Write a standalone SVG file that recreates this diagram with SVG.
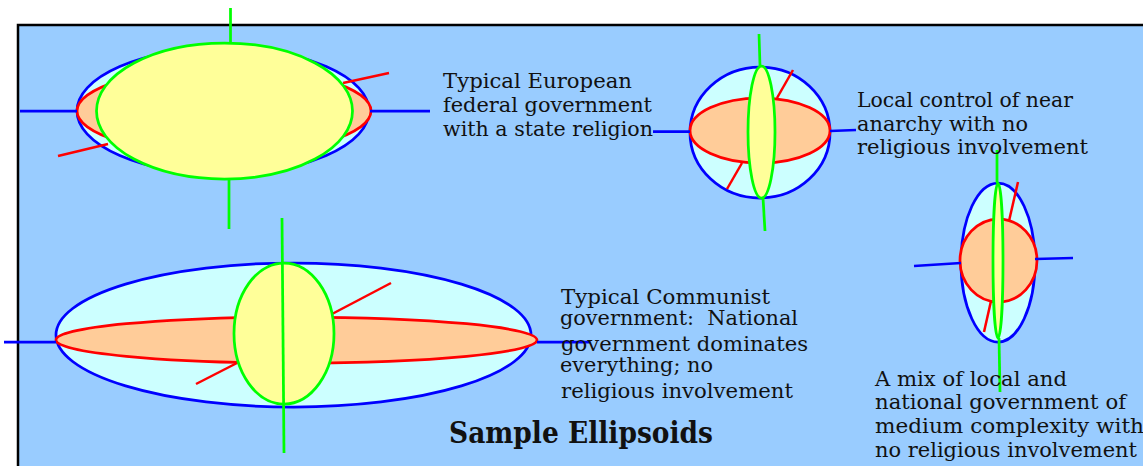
<svg xmlns="http://www.w3.org/2000/svg" width="1143" height="466" viewBox="0 0 1143 466">
<style>
.bg{fill:#99CCFF;stroke:#000;stroke-width:2.5}
.bl{fill:#CCFFFF;stroke:#0000FF;stroke-width:2.75}
.rd{fill:#FFCC99;stroke:#FF0000;stroke-width:2.75}
.gr{fill:#FFFF99;stroke:#00FF00;stroke-width:2.75}
.bx{stroke:#0000FF;stroke-width:2.75;fill:none}
.rx{stroke:#FF0000;stroke-width:2.5;fill:none}
.gx{stroke:#00FF00;stroke-width:2.75;fill:none}
text{font-family:"DejaVu Serif","Liberation Serif",serif;font-size:20.5px;fill:#111}
.tight{font-size:19.5px}
.title{font-size:29px;font-weight:bold}
</style>
<rect x="0" y="0" width="1143" height="466" fill="#fff"/>
<rect class="bg" x="18" y="25" width="1140" height="460"/>

<g id="ellipsoid-european">
<ellipse class="bl" cx="223" cy="111" rx="146" ry="63"/>
<ellipse class="rd" cx="224" cy="111" rx="147" ry="43"/>
<line class="rx" x1="343" y1="83" x2="389" y2="73"/>
<line class="rx" x1="58" y1="156" x2="108" y2="144"/>
<ellipse class="gr" cx="224.5" cy="111" rx="128" ry="68"/>
<line class="bx" x1="20" y1="111" x2="77" y2="111"/>
<line class="bx" x1="370" y1="111" x2="430" y2="111"/>
<line class="gx" x1="230.5" y1="8" x2="230.5" y2="43"/>
<line class="gx" x1="229" y1="179" x2="229" y2="229"/>
</g>

<g id="ellipsoid-anarchy">
<ellipse class="bl" cx="760" cy="132.5" rx="70" ry="65.5"/>
<ellipse class="rd" cx="760" cy="130.5" rx="70" ry="32.5"/>
<line class="rx" x1="777" y1="98" x2="793" y2="70"/>
<line class="rx" x1="742" y1="163" x2="727" y2="189"/>
<ellipse class="gr" cx="761.5" cy="132" rx="13.5" ry="66"/>
<line class="bx" x1="653" y1="131.5" x2="690" y2="131.5"/>
<line class="bx" x1="830" y1="131" x2="856" y2="130"/>
<line class="gx" x1="759" y1="34" x2="760" y2="66"/>
<line class="gx" x1="763" y1="198" x2="765" y2="231"/>
</g>

<g id="ellipsoid-mix">
<ellipse class="bl" cx="998" cy="262.5" rx="37" ry="79.5"/>
<ellipse class="rd" cx="998.5" cy="260.5" rx="38.5" ry="41.5"/>
<line class="rx" x1="1009" y1="221" x2="1018" y2="182"/>
<line class="rx" x1="991" y1="301" x2="984" y2="332"/>
<ellipse class="gr" cx="998" cy="260.5" rx="5" ry="77.5"/>
<line class="bx" x1="914" y1="266" x2="961" y2="263"/>
<line class="bx" x1="1035" y1="259" x2="1073" y2="258"/>
<line class="gx" x1="997" y1="150" x2="997" y2="183"/>
<line class="gx" x1="999" y1="338" x2="1000" y2="392"/>
</g>

<g id="ellipsoid-communist">
<ellipse class="bl" cx="293.5" cy="335" rx="237.5" ry="72"/>
<ellipse class="rd" cx="296.5" cy="340" rx="240.5" ry="23"/>
<line class="rx" x1="332" y1="314" x2="391" y2="283"/>
<line class="rx" x1="237" y1="363" x2="196" y2="384"/>
<ellipse class="gr" cx="284" cy="333.5" rx="50" ry="70.5"/>
<line class="gx" x1="282" y1="218" x2="284" y2="453"/>
<line class="bx" x1="4" y1="342" x2="56" y2="342"/>
<line class="bx" x1="537" y1="342" x2="590" y2="342"/>
</g>

<g id="label-european">
<text x="443" y="88" textLength="189" lengthAdjust="spacingAndGlyphs">Typical European</text>
<text x="443" y="112" textLength="209" lengthAdjust="spacingAndGlyphs">federal government</text>
<text x="443" y="136" textLength="210" lengthAdjust="spacingAndGlyphs">with a state religion</text>
</g>

<g id="label-anarchy">
<text x="857" y="107" textLength="216" lengthAdjust="spacingAndGlyphs">Local control of near</text>
<text x="857" y="131" textLength="171" lengthAdjust="spacingAndGlyphs">anarchy with no</text>
<text x="857" y="154" textLength="231" lengthAdjust="spacingAndGlyphs">religious involvement</text>
</g>

<g id="label-communist" class="tight">
<text class="tight" x="561" y="304" textLength="209" lengthAdjust="spacingAndGlyphs">Typical Communist</text>
<text class="tight" x="560" y="325" textLength="238" lengthAdjust="spacingAndGlyphs" xml:space="preserve">government:  National</text>
<text class="tight" x="561" y="351" textLength="247" lengthAdjust="spacingAndGlyphs">government dominates</text>
<text class="tight" x="560" y="372" textLength="153" lengthAdjust="spacingAndGlyphs">everything; no</text>
<text class="tight" x="561" y="398" textLength="232" lengthAdjust="spacingAndGlyphs">religious involvement</text>
</g>

<g id="label-mix">
<text x="875" y="386" textLength="192" lengthAdjust="spacingAndGlyphs">A mix of local and</text>
<text x="875" y="409" textLength="251" lengthAdjust="spacingAndGlyphs">national government of</text>
<text x="875" y="433" textLength="269" lengthAdjust="spacingAndGlyphs">medium complexity with</text>
<text x="875" y="457" textLength="262" lengthAdjust="spacingAndGlyphs">no religious involvement</text>
</g>

<g id="title">
<text class="title" x="449" y="443" textLength="264" lengthAdjust="spacingAndGlyphs">Sample Ellipsoids</text>
</g>
</svg>
